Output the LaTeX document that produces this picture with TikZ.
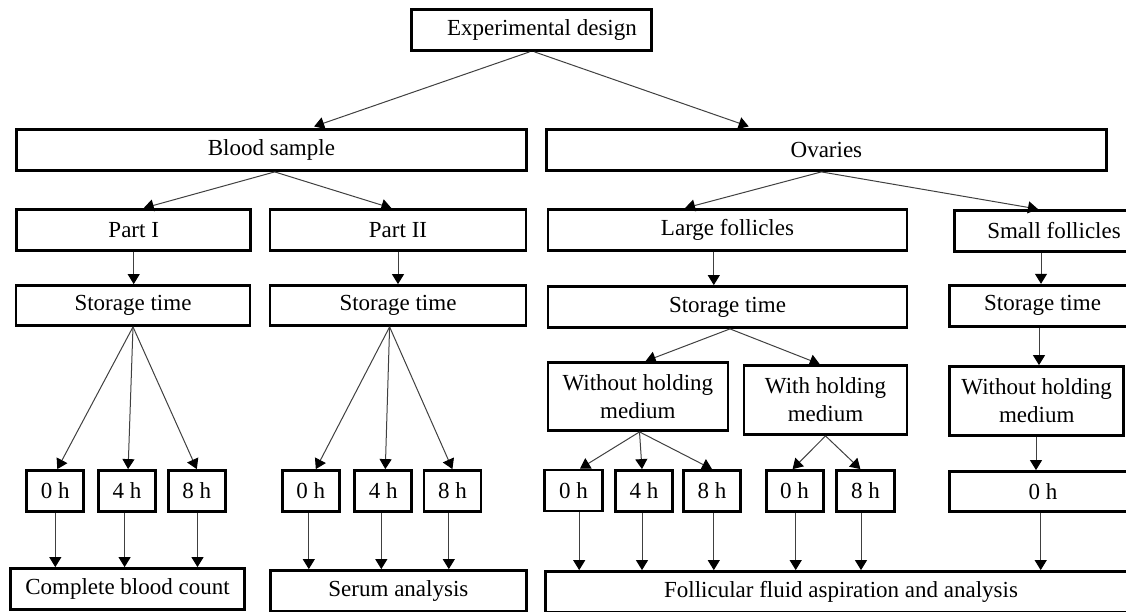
\documentclass[tikz,border=0pt]{standalone}
\usepackage{fontspec}
\setmainfont{Liberation Serif}
\usetikzlibrary{arrows.meta}
\begin{document}
\begin{tikzpicture}[x=1pt,y=-1pt,
  box/.style={draw, line width=2.8pt, inner sep=0pt, align=center,
    font=\fontsize{23}{28}\selectfont, minimum height=41pt},
  tbox/.style={box, minimum width=57pt},
  arr/.style={draw=black!75, line width=1pt, -{Triangle[length=10pt,width=12pt,color=black]}},
]
\useasboundingbox (0,0) rectangle (1126,611);
\clip (0,0) rectangle (1126,611);
% level 0-1
\node[box, minimum width=240pt] (top) at (531.5,30) {\hspace*{21pt}Experimental design};
\node[box, minimum width=510pt] (blood) at (271.4,150) {Blood sample};
\node[box, minimum width=560pt] (ov) at (826.4,150) {Ovaries};
% level 2
\node[box, minimum width=234pt] (p1) at (133.7,230) {Part I};
\node[box, minimum width=256pt] (p2) at (398,230) {Part II};
\node[box, minimum width=359pt] (lf) at (727.5,230) {Large follicles};
\node[box, minimum width=199pt] (sf) at (1054,231) {Small follicles};
% level 3
\node[box, minimum width=234pt, minimum height=40pt] (st1) at (133,305.5) {Storage time};
\node[box, minimum width=256pt, minimum height=40pt] (st2) at (398,305.5) {Storage time};
\node[box, minimum width=359pt] (st3) at (727.5,307) {Storage time};
\node[box, minimum width=186pt] (st4) at (1042.5,305.7) {Storage time};
% level 4
\node[box, minimum width=180pt, minimum height=68pt] (wl) at (637.9,396.5) {Without holding\\medium};
\node[box, minimum width=163pt, minimum height=69pt] (wh) at (825.5,400) {With holding\\medium};
\node[box, minimum width=174pt, minimum height=69pt] (ws) at (1036.7,401) {Without holding\\medium};
% time boxes
\node[tbox] (a0) at (55.3,491) {0 h};
\node[tbox] (a4) at (127.1,491) {4 h};
\node[tbox] (a8) at (196.8,491) {8 h};
\node[tbox] (b0) at (310.8,491) {0 h};
\node[tbox] (b4) at (383.3,491) {4 h};
\node[tbox] (b8) at (452.4,491) {8 h};
\node[tbox, minimum width=58pt] (c0) at (573.5,490.5) {0 h};
\node[tbox] (c4) at (644,491) {4 h};
\node[tbox] (c8) at (712,491) {8 h};
\node[tbox] (d0) at (794.6,491) {0 h};
\node[tbox, minimum width=58pt] (d8) at (865.4,491) {8 h};
\node[box, minimum width=187pt, minimum height=40pt] (e0) at (1043,491.5) {0 h};
% bottom
\node[box, minimum width=234pt] (cbc) at (127.5,589) {Complete blood count};
\node[box, minimum width=256pt] (ser) at (398.4,591) {Serum analysis};
\node[box, minimum width=591pt] (ff) at (841,592) {Follicular fluid aspiration and analysis};
% arrows level 0-1
\draw[arr, shorten >=5pt] ([xshift=-2pt]top.south) -- ([xshift=38pt]blood.north);
\draw[arr, shorten >=5pt] ([xshift=3pt]top.south) -- ([xshift=-73pt]ov.north);
% level 1-2
\draw[arr] ([xshift=3.3pt]blood.south) -- ([xshift=10pt]p1.north);
\draw[arr] ([xshift=3.3pt]blood.south) -- ([xshift=-6.6pt]p2.north);
\draw[arr] ([xshift=-5pt]ov.south) -- ([xshift=-42.5pt]lf.north);
\draw[arr] ([xshift=-5pt]ov.south) -- ([xshift=-16pt]sf.north);
% level 2-3
\draw[arr] (p1.south) -- (p1.south |- st1.north);
\draw[arr] (p2.south) -- (p2.south |- st2.north);
\draw[arr] ([xshift=-13.7pt]lf.south) -- ([xshift=-13.7pt]lf.south |- st3.north);
\draw[arr] ([xshift=-13pt]sf.south) -- ([xshift=-13pt]sf.south |- st4.north);
% storage -> times (blood)
\draw[arr] (st1.south) -- ([xshift=2pt]a0.north);
\draw[arr] (st1.south) -- ([xshift=1pt]a4.north);
\draw[arr] (st1.south) -- (a8.north);
\draw[arr] ([xshift=-8.4pt]st2.south) -- ([xshift=5pt]b0.north);
\draw[arr] ([xshift=-8.4pt]st2.south) -- ([xshift=2pt]b4.north);
\draw[arr] ([xshift=-8.4pt]st2.south) -- (b8.north);
% ovaries branch
\draw[arr] ([xshift=2.5pt]st3.south) -- ([xshift=7.7pt]wl.north);
\draw[arr] ([xshift=2.5pt]st3.south) -- ([xshift=-5.8pt]wh.north);
\draw[arr] ([xshift=-3.5pt]st4.south) -- ([xshift=-3.5pt]st4.south |- ws.north);
\draw[arr] ([xshift=1.6pt]wl.south) -- ([xshift=6.5pt]c0.north);
\draw[arr] ([xshift=1.6pt]wl.south) -- ([xshift=-2pt]c4.north);
\draw[arr] ([xshift=1.6pt]wl.south) -- (c8.north);
\draw[arr] (wh.south) -- ([xshift=-2pt]d0.north);
\draw[arr] (wh.south) -- ([xshift=-5pt]d8.north);
\draw[arr] ([xshift=-0.7pt]ws.south) -- ([xshift=-0.7pt]ws.south |- e0.north);
% times -> bottom
\draw[arr] (a0.south) -- (a0.south |- cbc.north);
\draw[arr] ([xshift=-2.5pt]a4.south) -- ([xshift=-2.5pt]a4.south |- cbc.north);
\draw[arr] ([xshift=0.7pt]a8.south) -- ([xshift=0.7pt]a8.south |- cbc.north);
\draw[arr] ([xshift=-2pt]b0.south) -- ([xshift=-2pt]b0.south |- ser.north);
\draw[arr] ([xshift=-2pt]b4.south) -- ([xshift=-2pt]b4.south |- ser.north);
\draw[arr] ([xshift=-3.6pt]b8.south) -- ([xshift=-3.6pt]b8.south |- ser.north);
\draw[arr] ([xshift=5.7pt]c0.south) -- ([xshift=5.7pt]c0.south |- ff.north);
\draw[arr] ([xshift=-2pt]c4.south) -- ([xshift=-2pt]c4.south |- ff.north);
\draw[arr] ([xshift=1.8pt]c8.south) -- ([xshift=1.8pt]c8.south |- ff.north);
\draw[arr] ([xshift=1.1pt]d0.south) -- ([xshift=1.1pt]d0.south |- ff.north);
\draw[arr] ([xshift=-4.4pt]d8.south) -- ([xshift=-4.4pt]d8.south |- ff.north);
\draw[arr] ([xshift=-2.3pt]e0.south) -- ([xshift=-2.3pt]e0.south |- ff.north);
\end{tikzpicture}
\end{document}
